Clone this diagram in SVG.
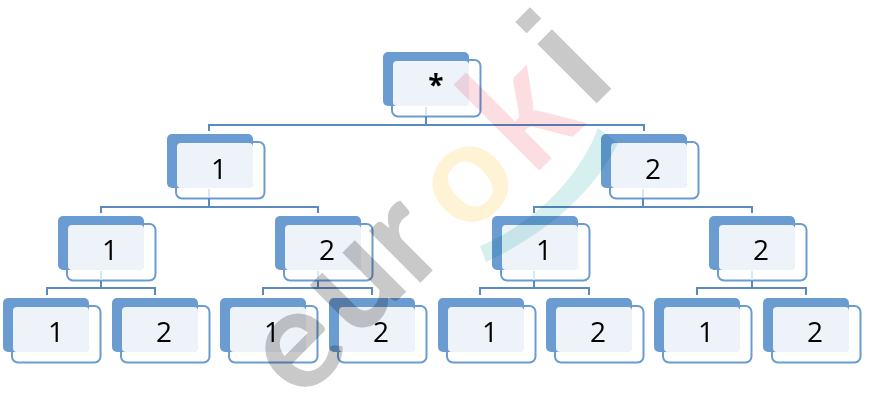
<svg xmlns="http://www.w3.org/2000/svg" width="878" height="400" viewBox="0 0 878 400">
<defs>
<style>
.back{fill:#6a9bd1}
.front{fill:#eef3f9}
.frame{fill:none;stroke:#6a9bd1;stroke-width:2}
.link{fill:none;stroke:#5b8abf;stroke-width:2}
.pale{fill:none;stroke:#dbe6f3;stroke-width:2}
.lab{font-family:"Open Sans","Noto Sans",sans-serif;font-size:28px;fill:#000;text-anchor:middle}
.wm{font-family:Lato,"Liberation Sans",sans-serif;font-weight:700;font-size:142px;text-anchor:middle;mix-blend-mode:multiply}
.grey{fill:#c9c9c9}
.teal{fill:#d6f0f0;mix-blend-mode:multiply}
</style>
<g id="box">
<rect class="frame" x="9" y="8" width="88.500" height="56.500" rx="6"/>
<rect class="back" x="0" y="0" width="86" height="54" rx="5"/>
<rect class="front" x="10" y="9" width="76" height="45" rx="4"/>
</g>
</defs>
<rect width="878" height="400" fill="#fff"/>
<g id="n0"><use href="#box" x="383" y="52"/><text class="lab" x="436" y="95" font-weight="700">*</text></g>
<g id="n1"><use href="#box" x="167" y="134"/><text class="lab" x="219" y="179">1</text></g>
<g id="n2"><use href="#box" x="601" y="134"/><text class="lab" x="653" y="179">2</text></g>
<g id="n11"><use href="#box" x="58" y="216"/><text class="lab" x="110" y="260">1</text></g>
<g id="n12"><use href="#box" x="275" y="216"/><text class="lab" x="327" y="260">2</text></g>
<g id="n21"><use href="#box" x="492" y="216"/><text class="lab" x="544" y="260">1</text></g>
<g id="n22"><use href="#box" x="709" y="216"/><text class="lab" x="761" y="260">2</text></g>
<g id="n111"><use href="#box" x="3" y="298"/><text class="lab" x="56" y="342">1</text></g>
<g id="n112"><use href="#box" x="112" y="298"/><text class="lab" x="164" y="342">2</text></g>
<g id="n121"><use href="#box" x="220" y="298"/><text class="lab" x="272" y="342">1</text></g>
<g id="n122"><use href="#box" x="329" y="298"/><text class="lab" x="381" y="342">2</text></g>
<g id="n211"><use href="#box" x="438" y="298"/><text class="lab" x="490" y="342">1</text></g>
<g id="n212"><use href="#box" x="546" y="298"/><text class="lab" x="598" y="342">2</text></g>
<g id="n221"><use href="#box" x="654" y="298"/><text class="lab" x="706" y="342">1</text></g>
<g id="n222"><use href="#box" x="763" y="298"/><text class="lab" x="815" y="342">2</text></g>
<g id="connectors">
<path class="pale" d="M426 107V115M209 189V197M643 189V197M101 271V280M318 271V280M534 271V280M752 271V280"/>
<path class="link" d="M209 131V125H644V131M426 125V116"/>
<path class="link" d="M101 213V207H318V213M209 207V198"/>
<path class="link" d="M534 213V207H752V213M643 207V198"/>
<path class="link" d="M47 295V288H155V295M101 288V281"/>
<path class="link" d="M263 295V288H372V295M318 288V281"/>
<path class="link" d="M480 295V288H589V295M534 288V281"/>
<path class="link" d="M697 295V288H806V295M752 288V281"/>
</g>
<g id="watermark">
<path class="teal" d="M480 246C528 226 578 182 598 128L618 143C595 190 550 232 486 262Z"/>
<text class="wm grey" transform="translate(327 377) rotate(-45)">e</text>
<text class="wm grey" transform="translate(384 314) rotate(-45)">u</text>
<text class="wm grey" transform="translate(433 270) rotate(-45)">r</text>
<text class="wm" fill="#fff3d6" transform="translate(496 210) rotate(-45)">o</text>
<text class="wm" fill="#fbdde2" transform="translate(560 150) rotate(-45) scale(1 1.15)">k</text>
<text class="wm grey" style="font-family:'Liberation Sans',sans-serif;font-size:137px" transform="translate(604 96) rotate(-45) scale(1.1 1.16)">i</text>
</g>
</svg>
